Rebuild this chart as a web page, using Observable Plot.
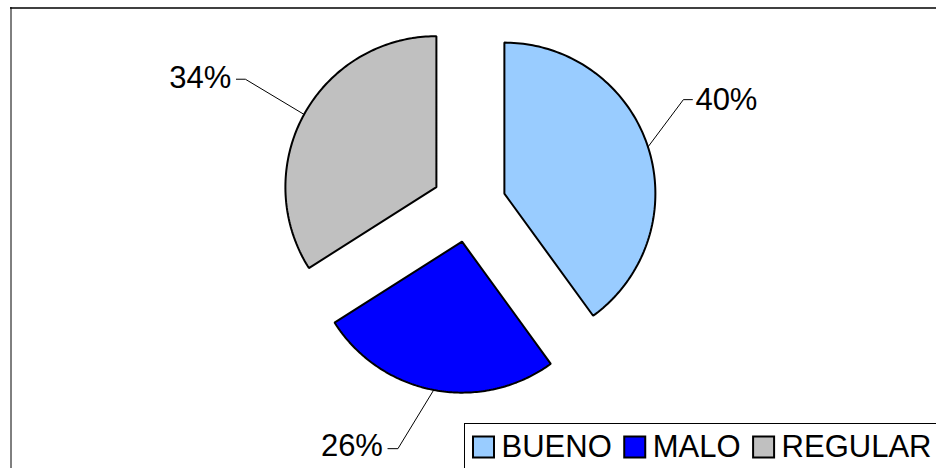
<!DOCTYPE html>
<html>
<head>
<meta charset="utf-8">
<script src="https://cdn.jsdelivr.net/npm/d3@7"></script>
<script src="https://cdn.jsdelivr.net/npm/@observablehq/plot@0.6"></script>
<style>
  html, body { margin: 0; padding: 0; background: #fff; }
  #chart svg { display: block; }
</style>
</head>
<body>
<div id="chart"></div>
<script>
// ---- data ----
const categories = ["BUENO", "MALO", "REGULAR"];
const values = [40, 26, 34];
const colors = ["#99CCFF", "#0000FF", "#C0C0C0"];

// ---- layout (pixels) ----
const W = 936, H = 468;
const CX = 468.5, CY = 204.6, R = 151, EXPLODE = 37.2;
const FONT = "Liberation Sans, Arial, sans-serif";
const LABEL_FS = 31, LEGEND_FS = 31;
// leader-line elbow offset from arc midpoint, horizontal tick, text side
const labelLayout = [
  { dx: 35.4, dy: -47.3, tick: 9, anchor: "start", tdy: 0.5 },
  { dx: -35.8, dy: 58.7, tick: -10, anchor: "end", tdy: -3 },
  { dx: -58.7, dy: -35.2, tick: -9, anchor: "end", tdy: -1 }
];

const total = d3.sum(values);
const arcs = d3.pie().sort(null).value(d => d)(values);

const slicePts = [];
const leaderPts = [];
const labels = [];
arcs.forEach((a, i) => {
  const mid = (a.startAngle + a.endAngle) / 2;
  const ox = CX + EXPLODE * Math.sin(mid);
  const oy = CY - EXPLODE * Math.cos(mid);
  slicePts.push({ name: categories[i], x: ox, y: oy });
  const n = 120;
  for (let k = 0; k <= n; k++) {
    const t = a.startAngle + (a.endAngle - a.startAngle) * k / n;
    slicePts.push({ name: categories[i], x: ox + R * Math.sin(t), y: oy - R * Math.cos(t) });
  }
  const mx = ox + R * Math.sin(mid), my = oy - R * Math.cos(mid);
  const L = labelLayout[i];
  const ex = mx + L.dx, ey = my + L.dy;
  const tx = ex + L.tick;
  leaderPts.push({ name: categories[i], x: mx, y: my });
  leaderPts.push({ name: categories[i], x: ex, y: ey });
  leaderPts.push({ name: categories[i], x: tx, y: ey });
  labels.push({
    text: Math.round(values[i] / total * 100) + "%",
    x: tx + (L.tick > 0 ? 3 : -5),
    y: ey + L.tdy,
    anchor: L.anchor
  });
});

// ---- legend layout ----
const ctx = document.createElement("canvas").getContext("2d");
ctx.font = `${LEGEND_FS}px "Liberation Sans"`;
const SQ = 21, SQ_GAP = 7, ENTRY_GAP = 13;
const legY = 446.5;
let lx = 473;
const legSquares = [], legTexts = [];
categories.forEach((c, i) => {
  legSquares.push({ name: c, x1: lx, x2: lx + SQ, y1: 447 - SQ / 2, y2: 447 + SQ / 2 });
  lx += SQ + SQ_GAP;
  legTexts.push({ text: c, x: lx, y: legY });
  lx += ctx.measureText(c).width + ENTRY_GAP;
});

const plot = Plot.plot({
  width: W,
  height: H,
  margin: 0,
  x: { domain: [0, W], range: [0, W], axis: null },
  y: { domain: [0, H], range: [0, H], axis: null },
  color: { domain: categories, range: colors },
  style: { fontFamily: FONT, background: "#fff" },
  marks: [
    // outer chart border
    Plot.ruleY([7.5], { x1: 10, x2: W, stroke: "#404040", strokeWidth: 2 }),
    Plot.ruleX([10.5], { y1: 7, y2: H, stroke: "#000", strokeWidth: 1 }),
    // slices
    Plot.line(slicePts, {
      x: "x", y: "y", z: "name", fill: "name",
      stroke: "#000", strokeWidth: 2, curve: "linear-closed", strokeLinejoin: "miter"
    }),
    // leader lines
    Plot.line(leaderPts, { x: "x", y: "y", z: "name", stroke: "#000", strokeWidth: 1 }),
    // percent labels
    Plot.text(labels.filter(d => d.anchor === "start"), {
      x: "x", y: "y", text: "text", textAnchor: "start",
      fontSize: LABEL_FS, fontFamily: FONT, fill: "#000"
    }),
    Plot.text(labels.filter(d => d.anchor === "end"), {
      x: "x", y: "y", text: "text", textAnchor: "end",
      fontSize: LABEL_FS, fontFamily: FONT, fill: "#000"
    }),
    // legend box
    Plot.rect([{ x1: 464.5, x2: W + 10, y1: 423.5, y2: H + 10 }], {
      x1: "x1", x2: "x2", y1: "y1", y2: "y2", fill: "#fff", stroke: "#000", strokeWidth: 1
    }),
    Plot.rect(legSquares, {
      x1: "x1", x2: "x2", y1: "y1", y2: "y2", fill: "name", stroke: "#000", strokeWidth: 2
    }),
    Plot.text(legTexts, {
      x: "x", y: "y", text: "text", textAnchor: "start",
      fontSize: LEGEND_FS, fontFamily: FONT, fill: "#000"
    })
  ]
});
document.getElementById("chart").appendChild(plot);
</script>
</body>
</html>
